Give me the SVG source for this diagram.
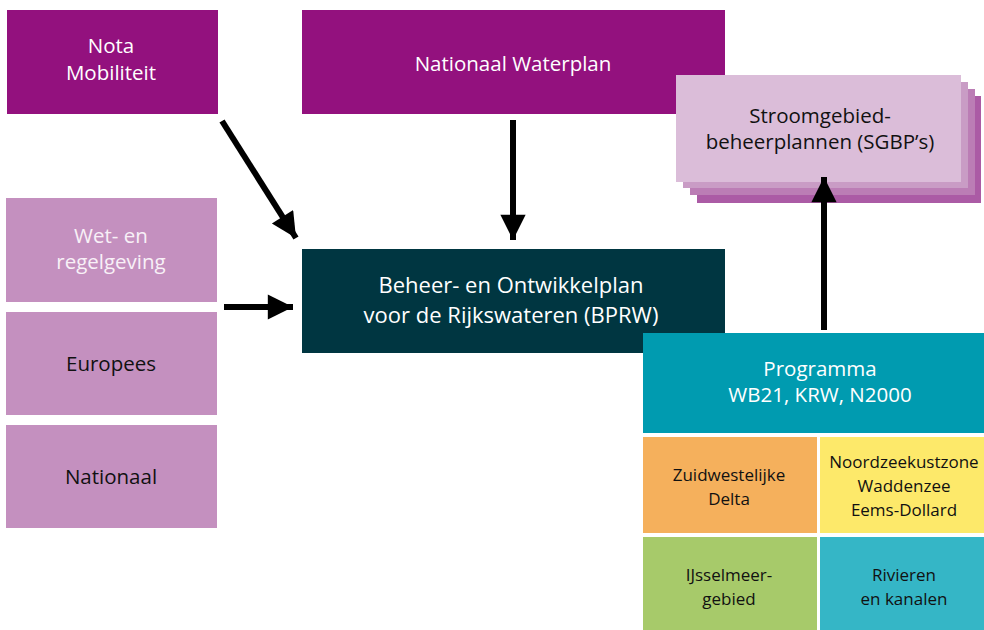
<svg xmlns="http://www.w3.org/2000/svg" width="984" height="630" viewBox="0 0 984 630">
<defs>
<style>
text{font-family:"Open Sans","Noto Sans",sans-serif;text-anchor:middle}
.w{fill:#ffffff}
.lw{fill:#f8f0f7}
.k{fill:#111111}
.f17{font-size:17px}
.f18{font-size:20.5px}
.f20{font-size:22px}
.conn{stroke:#000;stroke-width:6;fill:none}
</style>
<marker id="ah" viewBox="0 0 10 10" refX="10" refY="5" markerWidth="5" markerHeight="4.2" markerUnits="strokeWidth" orient="auto">
<path d="M0,0 L10,5 L0,10 z" fill="#000"/>
</marker>
</defs>
<rect width="984" height="630" fill="#ffffff"/>

<g id="nota-mobiliteit">
<rect x="7" y="10" width="211" height="104" fill="#93117e"/>
<text class="w f18" x="111" y="53">Nota</text>
<text class="w f18" x="111" y="80">Mobiliteit</text>
</g>

<g id="nationaal-waterplan">
<rect x="302" y="10" width="423" height="104" fill="#93117e"/>
<text class="w f18" x="513" y="71">Nationaal Waterplan</text>
</g>

<g id="wet-regelgeving">
<rect x="6" y="198" width="211" height="104" fill="#c490bf"/>
<text class="lw f18" x="111" y="243">Wet- en</text>
<text class="lw f18" x="111" y="269">regelgeving</text>
</g>

<g id="europees">
<rect x="6" y="312" width="211" height="103" fill="#c490bf"/>
<text class="k f18" x="111" y="371">Europees</text>
</g>

<g id="nationaal">
<rect x="6" y="425" width="211" height="103" fill="#c490bf"/>
<text class="k f18" x="111" y="484">Nationaal</text>
</g>

<g id="bprw">
<rect x="302" y="249" width="423" height="104" fill="#003641"/>
<text class="w f20" x="511" y="293">Beheer- en Ontwikkelplan</text>
<text class="w f20" x="511" y="323">voor de Rijkswateren (BPRW)</text>
</g>

<g id="sgbp">
<rect x="697" y="96" width="284" height="107" fill="#ab5ba5"/>
<rect x="690" y="89" width="285" height="106" fill="#bb7db5"/>
<rect x="683" y="82" width="285" height="106" fill="#c99cc5"/>
<rect x="676" y="75" width="285" height="107" fill="#dbbdd9"/>
<text class="k f18" x="820" y="123">Stroomgebied-</text>
<text class="k f18" x="820" y="149">beheerplannen (SGBP’s)</text>
</g>

<g id="programma">
<rect x="643" y="333" width="341" height="100" fill="#009bb0"/>
<text class="w f18" x="820" y="376">Programma</text>
<text class="w f18" x="820" y="402">WB21, KRW, N2000</text>
</g>

<g id="zuidwestelijke-delta">
<rect x="643" y="437" width="174" height="96" fill="#f5b05c"/>
<text class="k f17" x="729" y="481">Zuidwestelijke</text>
<text class="k f17" x="729" y="505">Delta</text>
</g>

<g id="noordzeekustzone">
<rect x="820" y="437" width="164" height="96" fill="#fde96a"/>
<text class="k f17" x="904" y="468">Noordzeekustzone</text>
<text class="k f17" x="904" y="492">Waddenzee</text>
<text class="k f17" x="904" y="516">Eems-Dollard</text>
</g>

<g id="ijsselmeergebied">
<rect x="643" y="537" width="174" height="93" fill="#a7ca6a"/>
<text class="k f17" x="729" y="581">IJsselmeer-</text>
<text class="k f17" x="729" y="605">gebied</text>
</g>

<g id="rivieren-kanalen">
<rect x="820" y="537" width="164" height="93" fill="#35b6c6"/>
<text class="k f17" x="904" y="581">Rivieren</text>
<text class="k f17" x="904" y="605">en kanalen</text>
</g>

<g id="connectors">
<line class="conn" x1="222" y1="121" x2="296" y2="238" marker-end="url(#ah)"/>
<line class="conn" x1="513" y1="120" x2="513" y2="240" marker-end="url(#ah)"/>
<line class="conn" x1="224" y1="307" x2="293" y2="307" marker-end="url(#ah)"/>
<line class="conn" x1="824" y1="330" x2="824" y2="177" marker-end="url(#ah)"/>
</g>
</svg>
